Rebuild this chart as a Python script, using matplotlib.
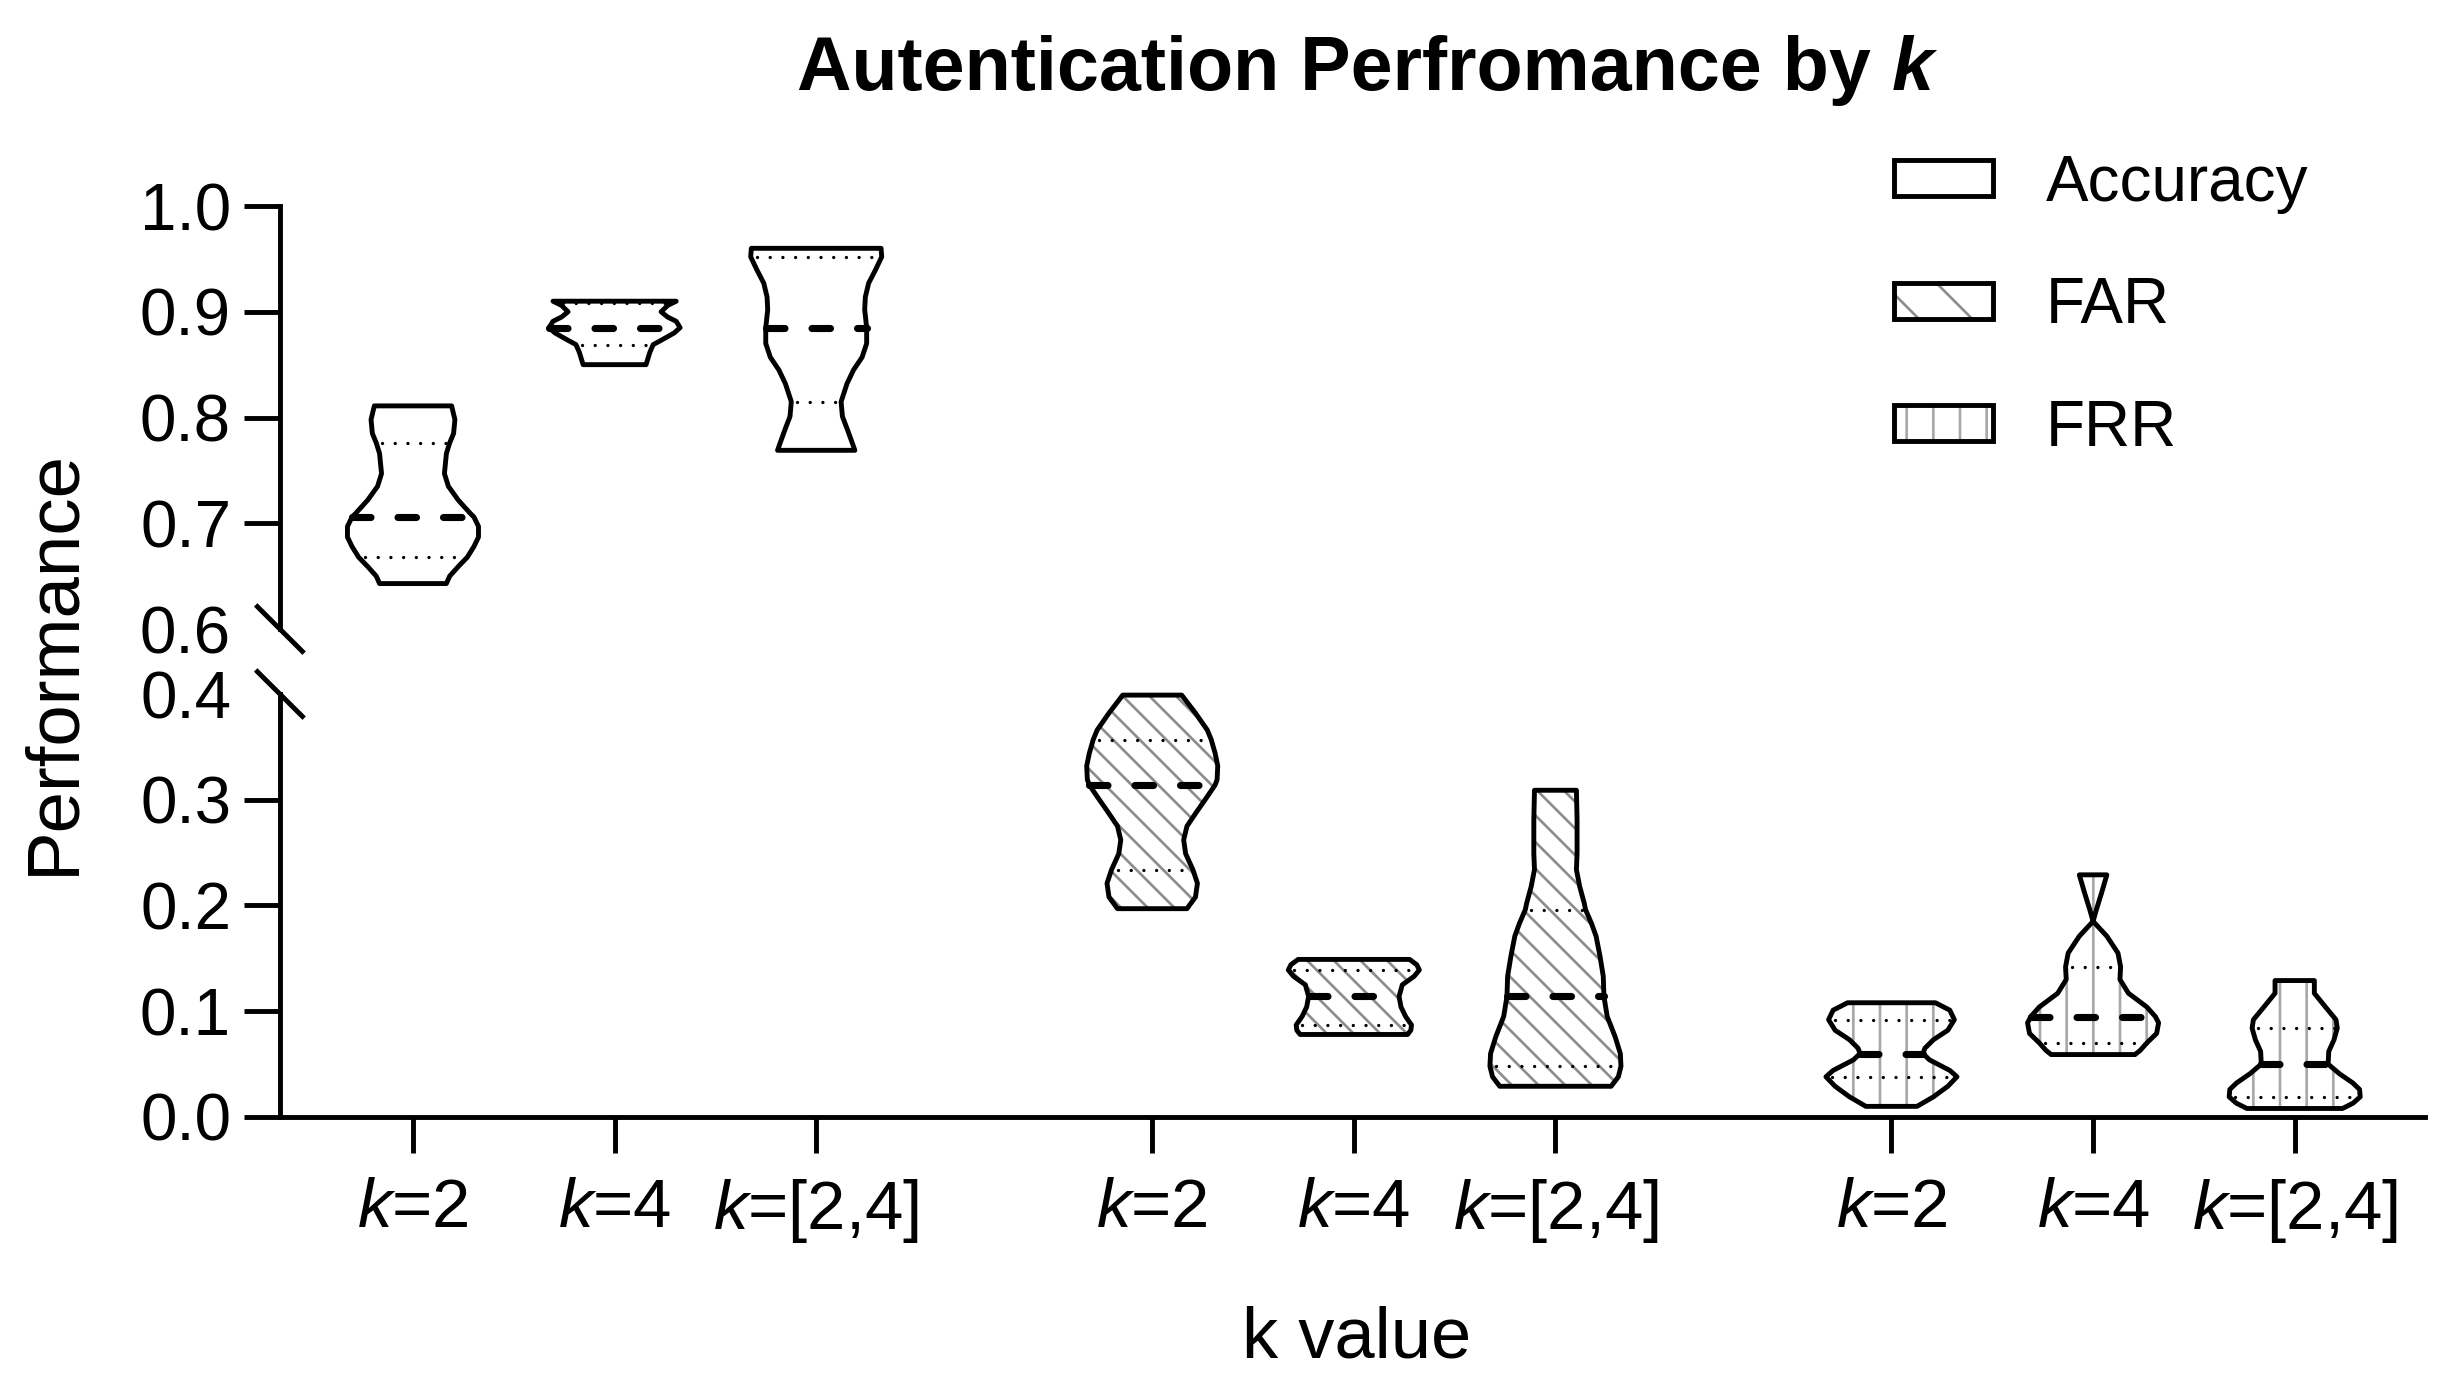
# %%
import numpy as np
import matplotlib.pyplot as plt
from matplotlib.patches import Patch

plt.rcParams['font.family'] = ['Liberation Sans', 'DejaVu Sans']
plt.rcParams['mathtext.fontset'] = 'custom'
plt.rcParams['mathtext.rm'] = 'Liberation Sans'
plt.rcParams['mathtext.it'] = 'Liberation Sans:italic'
plt.rcParams['hatch.linewidth'] = 1.2

# %%
# Values
metrics = ['Accuracy', 'FAR', 'FRR']
k_labels = [r'$\mathit{k}$=2', r'$\mathit{k}$=4', r'$\mathit{k}$=[2,4]']

# per violin, order: Acc k2, k4, k[2,4], FAR k2, k4, k[2,4], FRR k2, k4, k[2,4]
medians = [0.706, 0.885, 0.885, 0.314, 0.114, 0.114, 0.060, 0.095, 0.050]
q1 = [0.668, 0.869, 0.815, 0.234, 0.087, 0.048, 0.038, 0.070, 0.019]
q3 = [0.776, 0.908, 0.952, 0.357, 0.139, 0.196, 0.092, 0.142, 0.084]

# violin outlines: values (top to bottom) and relative half width (1 = widest)
acc_k2_y = [0.811, 0.798, 0.785, 0.776, 0.766, 0.747, 0.735, 0.722, 0.709, 0.706,
            0.697, 0.687, 0.678, 0.668, 0.659, 0.650, 0.643]
acc_k2_w = [0.59, 0.64, 0.62, 0.56, 0.51, 0.48, 0.54, 0.69, 0.88, 0.93,
            1.0, 1.0, 0.93, 0.83, 0.69, 0.56, 0.51]

acc_k4_y = [0.910, 0.906, 0.900, 0.895, 0.891, 0.885, 0.880, 0.873, 0.869, 0.862, 0.856, 0.850]
acc_k4_w = [0.94, 0.81, 0.71, 0.81, 0.94, 1.0, 0.91, 0.71, 0.59, 0.54, 0.51, 0.48]

acc_k24_y = [0.960, 0.952, 0.939, 0.927, 0.914, 0.902, 0.885, 0.870, 0.857, 0.845,
             0.832, 0.815, 0.801, 0.788, 0.776, 0.769]
acc_k24_w = [0.99, 1.0, 0.90, 0.80, 0.75, 0.74, 0.77, 0.77, 0.70, 0.57,
             0.47, 0.38, 0.40, 0.48, 0.55, 0.59]

far_k2_y = [0.399, 0.382, 0.366, 0.357, 0.344, 0.332, 0.319, 0.314, 0.303, 0.287,
            0.275, 0.262, 0.249, 0.234, 0.221, 0.208, 0.197]
far_k2_w = [0.45, 0.66, 0.84, 0.90, 0.96, 1.0, 0.99, 0.96, 0.84, 0.66,
            0.53, 0.48, 0.51, 0.62, 0.69, 0.66, 0.53]

far_k4_y = [0.149, 0.144, 0.139, 0.133, 0.125, 0.114, 0.104, 0.095, 0.087, 0.082, 0.078]
far_k4_w = [0.85, 0.96, 1.0, 0.92, 0.74, 0.69, 0.72, 0.79, 0.88, 0.87, 0.82]

far_k24_y = [0.309, 0.281, 0.249, 0.234, 0.218, 0.202, 0.196, 0.183, 0.171, 0.152,
             0.133, 0.114, 0.095, 0.076, 0.060, 0.048, 0.038, 0.029]
far_k24_w = [0.32, 0.33, 0.33, 0.32, 0.37, 0.44, 0.46, 0.55, 0.62, 0.68,
             0.73, 0.74, 0.79, 0.91, 0.99, 1.0, 0.96, 0.85]

frr_k2_y = [0.108, 0.101, 0.092, 0.082, 0.073, 0.065, 0.060, 0.054, 0.044, 0.038,
            0.029, 0.019, 0.010]
frr_k2_w = [0.67, 0.89, 0.96, 0.86, 0.64, 0.51, 0.48, 0.58, 0.89, 1.0, 0.86, 0.64, 0.39]

frr_k4_y = [0.229, 0.212, 0.196, 0.185, 0.171, 0.155, 0.142, 0.130, 0.117, 0.104,
            0.095, 0.089, 0.079, 0.070, 0.063, 0.059]
frr_k4_w = [0.21, 0.13, 0.05, 0.0, 0.21, 0.38, 0.42, 0.41, 0.54, 0.82,
            0.95, 1.0, 0.97, 0.82, 0.72, 0.64]

frr_k24_y = [0.129, 0.117, 0.104, 0.092, 0.084, 0.073, 0.062, 0.050, 0.041, 0.032,
             0.026, 0.019, 0.013, 0.008]
frr_k24_w = [0.30, 0.30, 0.47, 0.63, 0.65, 0.60, 0.52, 0.51, 0.68, 0.89,
             0.99, 1.0, 0.89, 0.73]

profiles = [(acc_k2_y, acc_k2_w), (acc_k4_y, acc_k4_w), (acc_k24_y, acc_k24_w),
            (far_k2_y, far_k2_w), (far_k4_y, far_k4_w), (far_k24_y, far_k24_w),
            (frr_k2_y, frr_k2_w), (frr_k4_y, frr_k4_w), (frr_k24_y, frr_k24_w)]

# %%
# Styling
half_max = 0.325  # half width of the widest point, in x units
line_w = 2.2
hatches = {'Accuracy': '', 'FAR': '\\\\', 'FRR': '|'}
legend_hatches = {'Accuracy': '', 'FAR': '\\', 'FRR': '|'}
hatch_colors = {'Accuracy': 'white', 'FAR': '#8c8c8c', 'FRR': '#a8a8a8'}

# three groups of three, with a gap between groups
xpos = [i + (i // 3) * 2 / 3 for i in range(9)]

fig = plt.figure(figsize=(15.4, 8.7), dpi=160)
ax_top = fig.add_axes([0.1136, 0.5481, 0.8706, 0.3039])
ax_bot = fig.add_axes([0.1136, 0.1976, 0.8706, 0.3038])

for ax in (ax_top, ax_bot):
    ax.set_xlim(-0.66, 9.98)
    ax.spines['top'].set_visible(False)
    ax.spines['right'].set_visible(False)
    ax.spines['left'].set_linewidth(line_w)
    ax.spines['bottom'].set_linewidth(line_w)
    ax.tick_params(axis='y', length=16, width=line_w, labelsize=29.5, pad=6)
    ax.patch.set_alpha(0)

ax_top.set_ylim(0.6, 1.0)
ax_bot.set_ylim(0.0, 0.4)
ax_top.spines['bottom'].set_visible(False)
ax_top.set_xticks([])

top_ticks = [0.6, 0.7, 0.8, 0.9, 1.0]
bot_ticks = [0.0, 0.1, 0.2, 0.3, 0.4]
ax_top.set_yticks(top_ticks)
ax_top.set_yticklabels([f'{v:.1f}' for v in top_ticks])
ax_bot.set_yticks(bot_ticks)
ax_bot.set_yticklabels([f'{v:.1f}' for v in bot_ticks])
ax_top.yaxis.get_major_ticks()[0].tick1line.set_visible(False)
ax_bot.yaxis.get_major_ticks()[-1].tick1line.set_visible(False)

ax_bot.set_xticks(xpos)
ax_bot.set_xticklabels(k_labels * 3)
ax_bot.tick_params(axis='x', length=16, width=line_w, labelsize=31, pad=11)

# break marks on the y axis
dx, dy = 0.0105, 0.053
ax_top.plot([-dx, dx], [dy, -dy], transform=ax_top.transAxes, color='black', lw=line_w, clip_on=False)
ax_bot.plot([-dx, dx], [1 + dy, 1 - dy], transform=ax_bot.transAxes, color='black', lw=line_w, clip_on=False)

# %%
for i, (yv, wv) in enumerate(profiles):
    metric = metrics[i // 3]
    ax = ax_top if max(yv) > 0.5 else ax_bot
    x0 = xpos[i]
    y = np.array(yv)
    w = np.array(wv) * half_max
    xs = np.concatenate([x0 - w, (x0 + w)[::-1]])
    ys = np.concatenate([y, y[::-1]])

    ax.fill(xs, ys, facecolor='white', edgecolor=hatch_colors[metric],
            hatch=hatches[metric], linewidth=0, zorder=2, clip_on=False)

    # median and quartiles, clipped to the violin width
    y_up, w_up = y[::-1], w[::-1]
    wm = np.interp(medians[i], y_up, w_up)
    ax.plot([x0 - wm, x0 + wm], [medians[i], medians[i]], color='black', lw=3.2,
            dashes=(2.6, 3.8), dash_capstyle='round', zorder=3, clip_on=False)
    for q in (q1[i], q3[i]):
        wq = np.interp(q, y_up, w_up)
        ax.plot([x0 - wq + 0.03, x0 + wq], [q, q], color='black', lw=1.5,
                dashes=(0.01, 3.8), dash_capstyle='round', zorder=3, clip_on=False)

    ax.fill(xs, ys, facecolor='none', edgecolor='black', linewidth=line_w,
            joinstyle='round', zorder=4, clip_on=False)

# %%
# Legend
handles = []
for m in metrics:
    handles.append((Patch(facecolor='white', edgecolor=hatch_colors[m], hatch=legend_hatches[m], linewidth=0),
                    Patch(facecolor='none', edgecolor='black', linewidth=line_w)))
fig.legend(handles, metrics, loc='center left', bbox_to_anchor=(0.7687, 0.780),
           frameon=False, fontsize=28.7, handlelength=1.55, handleheight=0.49,
           handletextpad=0.83, labelspacing=0.98, borderpad=0, borderaxespad=0)

# Titles and axis labels
t = fig.text(0.3235, 0.935, 'Autentication Perfromance by', fontsize=34,
             fontweight='bold', ha='left', va='baseline')
ax_top.annotate('k', xy=(1, 0), xycoords=t, xytext=(9.4, 0), textcoords='offset points',
                fontsize=34, fontweight='bold', fontstyle='italic', ha='left', va='bottom')
fig.text(0.5505, 0.025, 'k value', fontsize=32.5, ha='center', va='baseline')
fig.text(0.036, 0.5244, 'Performance', fontsize=33.5, rotation=90, ha='right', va='center')

fig.savefig('out.png', dpi=160)
